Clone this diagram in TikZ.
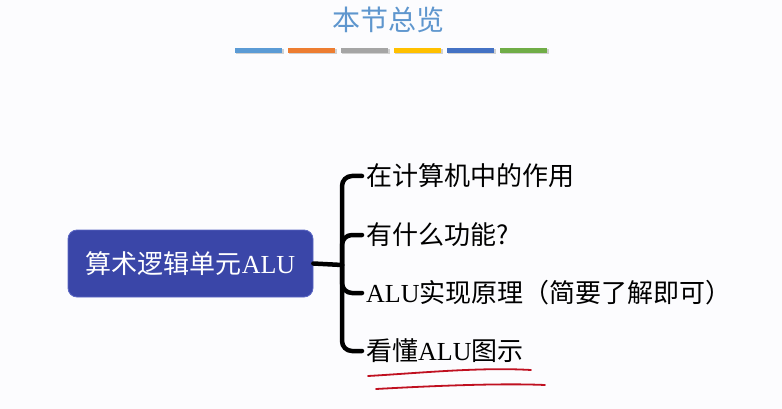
\documentclass[tikz,border=0pt]{standalone}
\usepackage{fontspec}
\newfontfamily\cjk{Noto Sans CJK SC}
\newfontfamily\latn{Liberation Serif}
\definecolor{bg}{HTML}{FCFCFE}
\definecolor{titleblue}{HTML}{5E96CE}
\definecolor{barA}{HTML}{5B9BD5}
\definecolor{barB}{HTML}{ED7D31}
\definecolor{barC}{HTML}{A5A5A5}
\definecolor{barD}{HTML}{FFC000}
\definecolor{barE}{HTML}{4472C4}
\definecolor{barF}{HTML}{70AD47}
\definecolor{boxfill}{HTML}{3A46A8}
\definecolor{boxedge}{HTML}{5B67C4}
\definecolor{penred}{HTML}{C01020}
\tikzset{
  mainbox/.style={draw=boxedge, line width=0.8pt, fill=boxfill, rounded corners=9pt,
    minimum width=245pt, minimum height=67pt, inner sep=0pt, text=white,
    font=\fontsize{26}{31}\selectfont},
  leaf/.style={anchor=west, inner sep=4pt, text=black, font=\fontsize{26}{31}\selectfont},
  conn/.style={line width=4.5pt, black, rounded corners=10pt, line cap=round},
  barshadow/.style={fill=black!18},
  pen/.style={penred, line width=1.8pt, line cap=round},
}
\begin{document}
\begin{tikzpicture}[x=1pt,y=-1pt]
\fill[bg] (0,0) rectangle (782,409);
\useasboundingbox (0,0) rectangle (782,409);
% title
\node[text=titleblue, font=\fontsize{28}{33}\selectfont\cjk] (title) at (388,20) {本节总览};
% bars
\foreach \xa/\c in {235/barA,288/barB,341/barC,394/barD,447/barE,500/barF}{
  \fill[barshadow] (\xa+0.5,49.5) rectangle (\xa+48.5,54.5);
  \fill[\c] (\xa,48) rectangle (\xa+47,53);
}
% main node
\node[mainbox] (alu) at (190.5,263.5) {{\cjk 算术逻辑单元}{\latn ALU}};
% leaves
\node[leaf] (t1) at (362,176) {\cjk 在计算机中的作用};
\node[leaf] (t2) at (362,235) {\cjk 有什么功能?};
\node[leaf] (t3) at (362,293) {{\latn ALU}{\cjk 实现原理（简要了解即可）}};
\node[leaf] (t4) at (362,351) {{\cjk 看懂}{\latn ALU}{\cjk 图示}};
% connectors
\coordinate (jn) at (342,265);
\draw[conn] (alu.east) -- (jn);
\draw[conn] (jn) |- (t1.west);
\draw[conn] (jn) |- (t2.west);
\draw[conn] (jn) |- (t3.west);
\draw[conn] (jn) |- (t4.west);
% red underline
\draw[pen] (368,376) .. controls (420,373) and (480,367) .. (531,370);
\draw[pen] (376,389) .. controls (430,386) and (500,383) .. (545,385);
\end{tikzpicture}
\end{document}
